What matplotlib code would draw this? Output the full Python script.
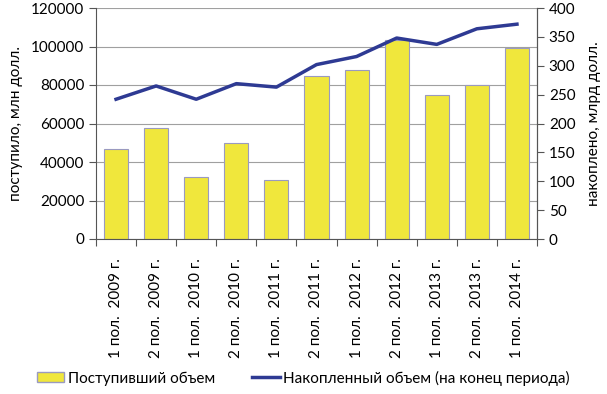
import matplotlib.pyplot as plt
from matplotlib.patches import Patch
from matplotlib.lines import Line2D

plt.rcParams['font.family'] = ['Lato', 'DejaVu Sans']

periods = ['1 пол.  2009 г.', '2 пол.  2009 г.', '1 пол.  2010 г.', '2 пол.  2010 г.',
           '1 пол.  2011 г.', '2 пол.  2011 г.', '1 пол.  2012 г.', '2 пол.  2012 г.',
           '1 пол.  2013 г.', '2 пол.  2013 г.', '1 пол.  2014 г.']
received = [46600, 57600, 32000, 49700, 30500, 84700, 87800, 103400, 74600, 80000, 99400]
accumulated = [242, 265, 242, 269, 263, 302, 316, 348, 337, 364, 372]

bar_color = '#f0e73c'
line_color = '#2e3a93'

fig = plt.figure(figsize=(6.07, 3.94), dpi=100)
ax = fig.add_axes([96 / 607, 1 - 239 / 394, 441 / 607, 231 / 394])
x = list(range(len(periods)))
ax.bar(x, received, width=0.6, color=bar_color, edgecolor='#9a9ac0', linewidth=0.8, zorder=2)
ax.set_xlim(-0.5, len(periods) - 0.5)
ax.set_ylim(0, 120000)
ax.set_yticks(range(0, 120001, 20000))
ax.grid(axis='y', color='#a0a0a0', linewidth=0.8, zorder=0)
ax.set_xticks([i - 0.5 for i in range(len(periods) + 1)])
ax.set_xticklabels([])
ax.set_xticks(x, minor=True)
ax.set_xticklabels(periods, minor=True, rotation=90, fontsize=11)
ax.tick_params(axis='x', which='minor', length=0, pad=14)
ax.tick_params(axis='x', which='major', length=5, color='#555555')
ax.tick_params(axis='y', length=5, labelsize=11, color='#555555')
ax.spines['top'].set_visible(False)
for s in ['left', 'bottom', 'right']:
    ax.spines[s].set_color('#555555')
ax.set_ylabel('поступило, млн долл.', fontsize=11, labelpad=6)

ax2 = ax.twinx()
ax2.plot(x, accumulated, color=line_color, linewidth=2.5, zorder=3)
ax2.set_ylim(0, 400)
ax2.set_yticks(range(0, 401, 50))
ax2.tick_params(axis='y', length=5, labelsize=11, color='#555555')
ax2.spines['top'].set_visible(False)
ax2.spines['right'].set_color('#555555')
ax2.spines['left'].set_visible(False)
ax2.spines['bottom'].set_visible(False)
ax2.set_ylabel('накоплено, млрд долл.', fontsize=11, labelpad=8)

handles = [Patch(facecolor=bar_color, edgecolor='#9a9ac0'),
           Line2D([0], [0], color=line_color, linewidth=2.5)]
fig.legend(handles, ['Поступивший объем', 'Накопленный объем (на конец периода)'],
           loc='center', bbox_to_anchor=(0.5, 1 - 378 / 394), ncol=2, frameon=False,
           fontsize=11, columnspacing=2.4, handlelength=1.8, handleheight=0.6,
           handletextpad=0.25)

fig.savefig('out.png', dpi=100)
